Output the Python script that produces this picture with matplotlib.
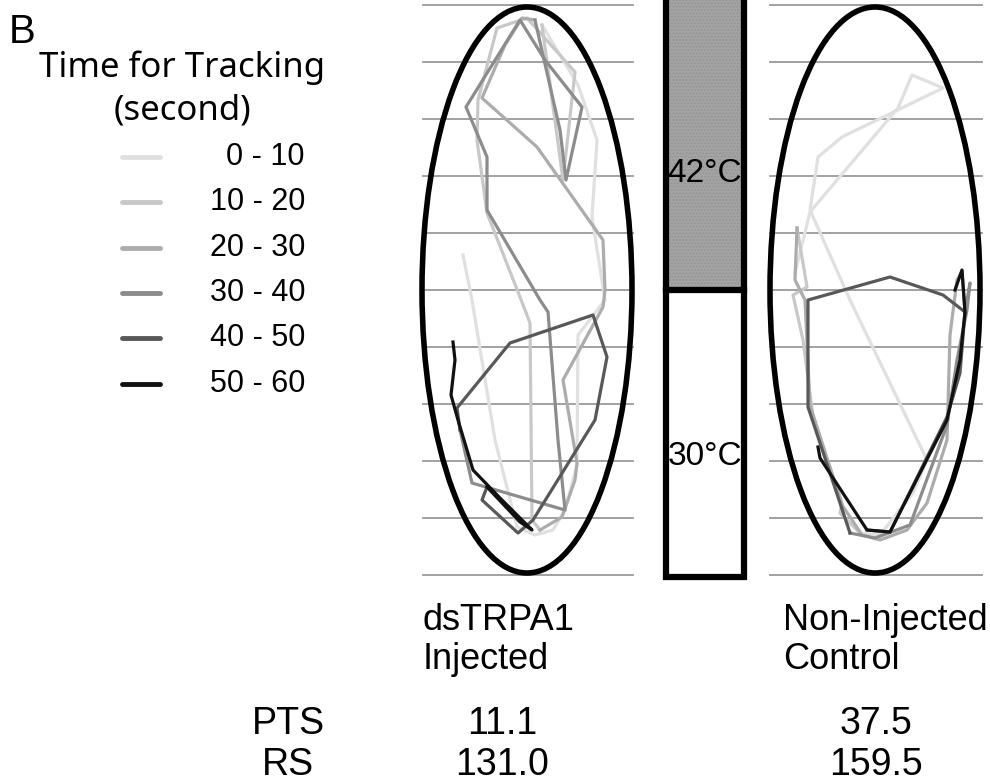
import matplotlib.pyplot as plt
from matplotlib.patches import Ellipse, Rectangle

# time bins of the tracking legend
bins = ['0 - 10', '10 - 20', '20 - 30', '30 - 40', '40 - 50', '50 - 60']
greys = ['#e0e0e0', '#c8c8c8', '#acacac', '#8c8c8c', '#585858', '#111111']

# tracks (x, y in arena pixels, y down), one polyline per 10 s bin
left_tracks = [
    [(463, 255), (472, 300), (495, 440), (517, 527), (535, 535), (553, 530), (565, 510),
     (577, 465), (578, 335), (605, 300), (592, 217), (597, 140), (578, 85), (542, 25)],
    [(542, 25), (563, 180), (575, 72), (527, 18), (497, 28), (478, 100), (477, 140),
     (487, 213), (520, 297), (530, 323), (532, 520), (540, 530)],
    [(540, 530), (562, 517), (575, 480), (577, 463), (563, 380), (603, 307), (605, 290),
     (603, 240), (537, 147), (482, 98), (505, 45), (522, 18), (535, 20)],
    [(535, 20), (560, 130), (566, 180), (582, 107), (545, 60), (520, 20), (466, 107),
     (487, 157), (487, 210), (540, 300), (548, 312), (558, 440), (565, 510), (472, 483),
     (460, 430)],
    [(460, 430), (457, 408), (510, 343), (593, 315), (607, 357), (595, 420), (533, 520),
     (518, 533), (482, 500), (487, 487)],
    [(487, 487), (520, 522), (532, 530), (500, 498), (473, 470), (458, 420), (451, 395),
     (455, 360), (453, 342)],
]
right_tracks = [
    [(795, 273), (810, 212), (898, 108), (912, 75), (943, 88), (842, 137), (818, 157),
     (810, 210), (850, 300), (927, 460), (913, 493), (880, 535), (860, 533)],
    [(860, 533), (840, 513), (842, 503), (813, 417), (803, 340), (793, 295), (807, 287),
     (797, 228)],
    [(797, 228), (795, 280), (805, 300), (810, 405), (842, 505), (862, 535), (880, 540),
     (907, 530), (927, 503), (947, 440), (950, 335), (957, 280), (962, 272)],
    [(962, 272), (965, 312), (970, 283), (967, 310), (957, 360), (947, 425), (910, 525),
     (875, 538), (850, 533)],
    [(850, 533), (808, 407), (808, 300), (890, 277), (943, 295), (965, 312), (960, 373),
     (947, 417), (890, 532), (867, 530)],
    [(955, 290), (962, 270), (965, 312), (960, 360), (947, 420), (890, 532), (867, 530),
     (820, 458), (818, 447)],
]

groups = [('dsTRPA1', 'Injected'), ('Non-Injected', 'Control')]
pts = [11.1, 37.5]
rs = [131.0, 159.5]
zones = ['42°C', '30°C']

W, H = 990, 784
fig = plt.figure(figsize=(W / 100, H / 100), dpi=100)

# background axes in pixel units for text and the temperature bar
bg = fig.add_axes([0, 0, 1, 1])
bg.set_xlim(0, W)
bg.set_ylim(H, 0)
bg.axis('off')

sans = 'Liberation Sans'

# legend
bg.text(9, 43, 'B', fontsize=29, family=sans, va='baseline')
bg.text(182, 68, 'Time for Tracking', fontsize=25, family='Noto Sans', ha='center', va='center')
bg.text(182, 110, '(second)', fontsize=25, family='Noto Sans', ha='center', va='center')
for i, (lab, c) in enumerate(zip(bins, greys)):
    y = 157 + 45.3 * i
    bg.plot([122, 160], [y, y], color=c, lw=3.5, solid_capstyle='round')
    bg.text(305, y, lab, fontsize=22, family=sans, ha='right', va='center')

# temperature bar
top = Rectangle((666, -10), 78, 300, facecolor='#a4a4a4', edgecolor='#959595',
                hatch='.....', lw=0)
bg.add_patch(top)
bg.add_patch(Rectangle((666, -10), 78, 587, facecolor='none', edgecolor='black', lw=4.5))
bg.plot([666, 744], [290, 290], color='black', lw=4.5)
bg.text(705, 173, zones[0], fontsize=24, family=sans, ha='center', va='center')
bg.text(705, 456, zones[1], fontsize=24, family=sans, ha='center', va='center')

# arenas
arenas = [(left_tracks, 527, 423, 633), (right_tracks, 875, 770, 982)]
for tracks, cx, gx0, gx1 in arenas:
    ax = fig.add_axes([(cx - 120) / W, 1 - 600 / H, 240 / W, 600 / H])
    ax.set_xlim(cx - 120, cx + 120)
    ax.set_ylim(600, 0)
    ax.axis('off')
    for k in range(11):
        y = 5 + 57 * k
        ax.plot([gx0, gx1], [y, y], color='#9a9a9a', lw=1.3, zorder=1)
    for tr, c in zip(tracks, greys):
        xs = [p[0] for p in tr]
        ys = [p[1] for p in tr]
        ax.plot(xs, ys, color=c, lw=2.3, zorder=2)
    ax.add_patch(Ellipse((cx, 290), 210, 566, fill=False, edgecolor='black', lw=4, zorder=3))

# group labels and scores
for x0, (l1, l2) in zip([423, 783], groups):
    bg.text(x0, 630, l1, fontsize=26, family=sans, va='baseline')
    bg.text(x0, 669, l2, fontsize=26, family=sans, va='baseline')
bg.text(288, 734, 'PTS', fontsize=27, family=sans, ha='center', va='baseline')
bg.text(288, 775, 'RS', fontsize=27, family=sans, ha='center', va='baseline')
for x, p, r in zip([502, 876], pts, rs):
    bg.text(x, 734, f'{p:.1f}', fontsize=27, family=sans, ha='center', va='baseline')
    bg.text(x, 775, f'{r:.1f}', fontsize=27, family=sans, ha='center', va='baseline')

fig.savefig('out.png', dpi=100)
